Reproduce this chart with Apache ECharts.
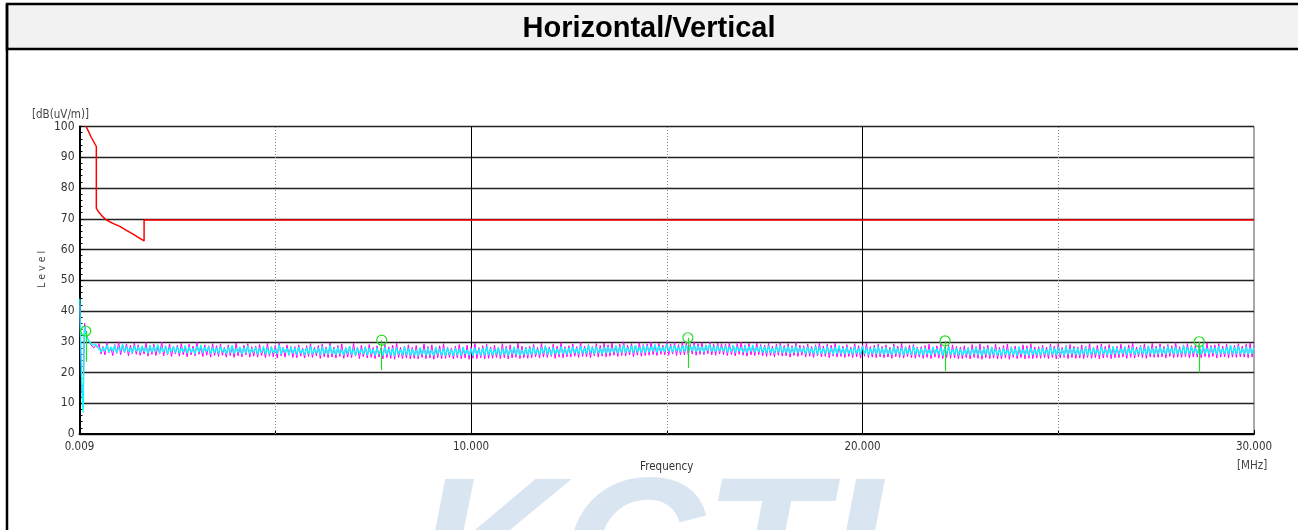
<!DOCTYPE html>
<html><head><meta charset="utf-8">
<script src="https://cdn.jsdelivr.net/npm/echarts@6/dist/echarts.min.js"></script>
<style>html,body{margin:0;padding:0;background:#fff}#c{width:1298px;height:530px}</style>
</head><body><div id="c"></div>
<script>
// ---- data ----
const titleText = 'Horizontal/Vertical';
const yTicks = [0,10,20,30,40,50,60,70,80,90,100];
const xTickLabels = {0:'0.009',10:'10.000',20:'20.000',30:'30.000'};
// start of the sweep (explicit frequencies, MHz)
const headFreq = [0.009,0.02,0.035,0.05,0.065,0.08,0.09,0.1,0.11,0.12,0.13,0.15,0.18,0.21,0.25,0.29,0.33,0.37,0.42,0.46];
const headCyan = [44,36,28,20,14,9,7,12,22,30,35,33,32,31,30,29.5,29,28.5,29,28.3];
const headMagenta = [42,33,24,18,13,11,12,16,25,32,36,34,32.5,31,30.5,29,29.5,28,29,28];
// rest of the sweep: start 0.5 MHz, step 0.05 MHz
const sweepStart = 0.5, sweepStep = 0.05;
const cyanLevel = [
28.6,26.7,28.2,27.0,29.0,26.5,28.4,26.9,28.8,26.4,28.1,27.1,29.3,26.6,28.5,26.8,28.0,26.3,28.7,26.9,
28.3,26.5,28.7,26.8,28.1,26.2,28.9,26.6,28.4,26.9,29.1,26.3,28.2,26.7,28.6,26.1,28.0,26.8,28.5,26.4,
28.4,26.3,28.0,26.7,28.8,26.2,28.3,26.5,27.9,26.0,28.6,26.6,29.0,26.3,28.2,26.8,28.5,26.1,28.1,26.4,
28.0,26.2,28.5,26.6,27.8,26.0,28.3,26.4,28.9,26.1,27.9,26.5,28.4,25.9,28.1,26.3,28.7,26.0,27.8,26.6,
28.2,25.9,27.8,26.4,28.6,26.0,28.0,25.8,28.4,26.3,27.7,26.1,29.0,25.9,28.1,26.5,27.9,25.7,28.3,26.2,
27.9,25.8,28.3,26.2,27.6,25.7,28.1,26.0,28.5,25.9,27.7,26.3,28.0,25.6,28.4,26.1,27.8,25.8,28.8,26.0,
27.8,25.7,28.2,26.0,27.5,25.6,28.0,26.1,28.6,25.8,27.7,25.5,28.1,26.2,27.6,25.9,28.4,25.6,27.9,26.0,
27.6,25.5,28.0,25.9,27.4,25.4,28.3,25.8,27.7,25.6,27.9,25.3,28.1,25.9,27.5,25.6,28.5,25.7,27.8,25.5,
27.7,25.6,27.4,25.3,28.2,25.8,27.6,25.5,28.0,25.7,27.3,25.4,28.4,25.9,27.5,25.6,27.9,25.3,28.1,25.8,
27.5,25.4,28.0,25.7,27.6,25.5,28.3,25.9,27.4,25.6,27.8,25.3,28.1,25.8,27.7,25.5,27.9,25.6,28.5,25.7,
27.8,25.6,27.5,25.9,28.2,25.5,27.7,25.8,28.0,25.4,27.6,26.0,28.4,25.7,27.9,25.5,27.4,25.8,28.1,25.6,
27.9,25.8,28.3,26.0,27.6,25.7,28.1,26.2,28.7,25.9,27.8,25.6,28.2,26.1,27.7,25.8,28.5,26.0,27.9,25.9,
28.1,26.0,28.4,26.3,27.9,25.9,28.6,26.2,28.0,26.1,28.8,26.4,28.2,25.9,28.5,26.3,27.9,26.0,28.3,26.2,
28.4,26.3,28.0,26.6,28.8,26.2,28.3,26.5,29.0,26.4,28.1,26.7,28.6,26.3,28.9,26.6,28.2,26.4,28.7,26.5,
28.7,26.6,28.4,26.9,29.1,26.5,28.6,26.8,28.3,26.7,29.3,26.9,28.5,26.6,28.9,27.0,28.4,26.7,28.8,26.8,
28.9,26.8,28.5,27.0,29.0,26.7,28.6,26.9,28.4,26.6,28.8,27.1,29.2,26.8,28.5,26.7,28.7,27.0,28.3,26.9,
28.6,26.6,28.3,26.8,28.9,26.5,28.4,26.9,28.1,26.6,28.7,26.4,28.5,26.8,29.0,26.6,28.2,26.7,28.6,26.5,
28.3,26.3,28.6,26.5,28.0,26.2,28.4,26.6,28.9,26.3,28.1,26.5,28.5,26.1,28.2,26.4,28.7,26.3,28.0,26.6,
28.1,26.0,28.4,26.3,27.8,26.1,28.6,25.9,28.2,26.2,27.9,26.0,28.5,26.3,28.0,25.8,28.3,26.1,28.8,26.0,
28.0,25.9,28.3,26.1,27.7,25.8,28.4,26.2,27.9,25.9,28.6,26.0,28.1,25.7,27.8,26.1,28.2,25.9,28.5,26.0,
27.9,25.8,28.2,26.0,27.6,25.7,28.5,26.1,27.8,25.9,28.0,25.6,28.3,26.0,27.7,25.8,28.6,25.9,27.9,25.7,
27.8,25.7,28.1,25.9,27.5,25.6,28.4,26.0,27.7,25.8,28.2,25.5,27.9,25.9,28.5,25.7,27.6,25.8,28.0,25.6,
27.7,25.6,27.4,25.8,28.1,25.5,27.6,25.9,28.3,25.7,27.5,25.4,28.0,25.8,27.8,25.5,28.4,25.7,27.6,25.6,
27.6,25.5,28.0,25.8,27.4,25.6,28.2,25.7,27.7,25.4,28.5,25.9,27.5,25.6,27.9,25.5,28.1,25.8,27.6,25.7,
27.8,25.6,28.1,25.9,27.5,25.7,28.4,25.8,27.9,25.6,28.2,25.9,27.6,25.5,28.6,25.8,27.7,25.9,28.0,25.7,
27.9,25.7,27.6,25.9,28.3,25.6,27.8,25.8,28.1,26.0,27.5,25.7,28.4,25.9,27.7,25.6,28.0,25.8,28.6,25.9,
28.0,25.8,27.7,26.0,28.4,25.7,27.9,26.1,28.2,25.8,27.6,25.9,28.5,26.0,27.8,25.7,28.7,26.1,27.9,25.8,
28.1,25.9,28.4,26.1,27.8,25.8,28.6,26.2,28.0,25.9,28.3,26.0,27.7,26.1,28.8,25.9,28.2,26.0,28.5,26.2,
28.0,26.0,28.3,25.8,28.7,26.1,27.9,25.9,28.4,26.2,28.1,25.8,28.6,26.0,27.8,26.1,28.3,25.9,28.9,26.0,
28.2,25.9,28.5,26.1,27.9,26.0,28.4,25.8,28.1,26.0,28.3];
const magentaLevel = [
29.4,26.0,28.5,25.7,29.8,26.4,28.1,25.5,29.1,26.2,30.0,25.8,28.6,26.5,29.3,25.4,28.9,26.1,29.6,25.9,
29.0,25.6,28.4,26.0,29.7,25.3,28.8,25.9,29.2,25.5,28.3,26.1,29.9,25.4,28.7,25.8,29.3,25.2,28.5,26.0,
28.9,25.3,29.5,25.8,28.4,25.1,29.2,25.7,28.6,25.4,29.8,25.9,28.3,25.2,29.0,25.6,28.7,25.0,29.4,25.5,
28.7,25.2,29.3,25.6,28.2,25.0,29.0,25.5,28.5,24.9,29.6,25.4,28.3,25.1,28.9,25.7,29.4,25.0,28.4,25.3,
28.6,25.0,29.1,25.5,28.1,24.8,29.5,25.3,28.4,25.1,28.9,24.7,29.7,25.4,28.2,25.0,29.0,25.6,28.5,24.9,
28.4,24.8,29.0,25.3,28.0,24.7,28.7,25.2,29.4,24.9,28.2,25.4,28.8,24.6,29.2,25.1,28.3,24.8,29.6,25.0,
28.3,24.7,28.8,25.2,29.3,24.6,28.1,25.0,28.6,24.8,29.5,25.3,28.2,24.5,28.9,25.1,28.4,24.7,29.1,24.9,
28.1,24.5,28.7,25.0,28.0,24.4,29.2,24.8,28.3,24.6,28.9,24.3,29.6,24.9,28.2,24.5,28.6,24.7,29.0,24.4,
28.2,24.6,28.8,24.4,28.0,24.9,29.3,24.5,28.4,24.7,29.0,24.3,28.1,24.8,28.7,24.5,29.4,24.6,28.3,24.9,
28.0,24.4,28.6,24.8,29.1,24.5,28.2,24.7,28.9,24.3,28.4,24.6,29.5,24.5,28.1,24.8,28.7,24.4,29.2,24.6,
28.3,24.6,28.9,24.9,28.1,24.5,29.4,24.8,28.5,24.4,29.0,24.7,28.2,24.9,29.6,24.5,28.6,24.8,28.3,24.6,
28.5,24.8,29.1,25.1,28.2,24.7,29.5,25.0,28.7,24.9,28.3,25.2,29.2,24.6,28.6,25.0,29.7,24.8,28.4,25.1,
28.7,25.0,29.3,25.3,28.4,24.9,29.8,25.2,28.6,25.1,29.1,24.8,28.5,25.4,29.4,25.0,28.8,25.3,29.6,25.1,
29.0,25.3,29.6,25.6,28.7,25.2,29.2,25.5,30.0,25.4,28.9,25.7,29.4,25.1,28.8,25.6,29.7,25.3,29.1,25.5,
29.3,25.6,29.9,25.8,29.0,25.5,29.5,25.9,28.9,25.7,30.1,25.6,29.2,26.0,29.7,25.5,29.1,25.8,29.8,25.7,
29.5,25.7,29.1,26.0,30.0,25.6,29.3,25.9,29.7,25.8,29.0,26.1,29.9,25.7,29.2,25.6,29.6,26.0,29.4,25.8,
29.2,25.5,29.7,25.8,28.9,25.4,29.4,25.9,29.9,25.6,29.0,25.3,29.5,25.7,28.8,25.5,29.6,25.8,29.1,25.4,
28.9,25.2,29.5,25.5,28.6,25.1,29.2,25.6,29.7,25.3,28.8,25.4,29.4,25.0,28.7,25.5,29.8,25.2,28.9,25.6,
28.7,25.0,29.3,25.3,28.5,24.9,29.0,25.4,29.6,25.1,28.6,25.2,29.2,24.8,28.9,25.3,29.5,25.0,28.4,25.2,
28.6,24.9,29.1,25.2,28.3,24.8,29.4,25.1,28.7,24.7,29.0,25.3,29.6,24.9,28.4,25.0,28.9,24.8,29.2,25.1,
28.5,24.8,29.0,25.0,28.2,24.6,29.3,25.1,28.6,24.9,29.5,24.7,28.4,25.2,28.9,24.8,29.1,24.6,28.3,25.0,
28.4,24.6,28.8,24.9,29.2,24.5,28.3,25.0,28.7,24.7,29.4,24.5,28.2,24.9,28.9,24.6,29.0,24.8,28.5,24.4,
28.3,24.5,28.7,24.8,28.1,24.4,29.1,24.9,28.5,24.6,29.3,24.3,28.4,24.8,28.9,24.5,28.2,24.7,29.2,24.4,
28.2,24.5,28.8,24.7,29.3,24.3,28.4,24.9,28.6,24.5,28.1,24.8,29.0,24.4,28.7,24.6,29.4,24.5,28.3,24.7,
28.4,24.6,28.9,24.8,28.3,24.5,29.2,24.9,28.6,24.4,29.5,24.7,28.2,24.9,28.8,24.5,29.1,24.8,28.5,24.6,
28.3,24.7,29.0,24.5,28.6,24.9,29.4,24.6,28.2,24.8,28.9,24.4,29.3,24.7,28.5,24.9,29.1,24.5,28.4,24.8,
28.5,24.8,29.2,25.0,28.4,24.6,29.0,24.9,29.6,24.7,28.3,25.1,28.8,24.8,29.3,24.6,28.6,25.0,29.5,24.9,
28.6,24.9,29.3,25.1,28.5,24.7,29.1,25.2,28.7,24.8,29.7,25.0,28.4,24.9,29.0,25.1,29.4,24.7,28.8,25.0,
28.7,25.0,29.2,24.8,28.5,25.1,29.6,24.9,28.8,25.2,29.0,24.7,29.4,25.0,28.6,25.1,29.3,24.8,28.9,25.0,
28.8,24.9,29.4,25.1,28.6,25.0,29.2,24.8,29.5,25.0,28.7];
// limit line
const limitFreq  = [0.17, 0.3, 0.43, 0.43, 0.5, 0.6, 0.69, 0.85, 1.03, 1.2, 1.37, 1.52, 1.65, 1.65, 30];
const limitLevel = [100, 96.5, 93.5, 73.4, 72.0, 70.6, 69.6, 68.5, 67.5, 66.2, 65, 63.8, 62.8, 69.6, 69.6];
// peak markers
const markFreq   = [0.16, 7.72, 15.54, 22.11, 28.6];
const markLevel  = [33.5, 30.5, 31.3, 30.3, 30.0];
const markBottom = [23.5, 20.8, 21.5, 20.5, 20.0];
const dottedX = [5, 15, 25];

// ---- build ----
function trace(head, vals){
  const d = headFreq.map((f,i)=>[f, head[i]]);
  vals.forEach((v,i)=>d.push([+(sweepStart + i*sweepStep).toFixed(3), v]));
  return d;
}
const FONT = "'Liberation Sans Narrow','DejaVu Sans Condensed',Arial,sans-serif";
const chart = echarts.init(document.getElementById('c'), null, {renderer:'canvas'});
chart.setOption({
  animation:false,
  backgroundColor:'#ffffff',
  grid:{left:79.5, right:44, top:126.5, bottom:96, show:true, borderColor:'#555', borderWidth:1},
  xAxis:{
    type:'value', min:0, max:30, interval:5,
    name:'Frequency', nameLocation:'middle', nameGap:27,
    nameTextStyle:{fontFamily:FONT, fontSize:11.5, color:'#333'},
    axisLine:{show:true, onZero:false, lineStyle:{color:'#000', width:2}},
    axisTick:{show:true, inside:true, length:4, lineStyle:{color:'#000'}},
    axisLabel:{fontFamily:FONT, fontSize:11.5, color:'#333', margin:7,
      formatter:v=>xTickLabels[v]!==undefined?xTickLabels[v]:''},
    splitLine:{show:true, lineStyle:{color:['transparent','transparent','#000','transparent','#000','transparent','transparent'], width:1}}
  },
  yAxis:{
    type:'value', min:0, max:100, interval:10,
    axisLine:{show:true, lineStyle:{color:'#000', width:2}},
    axisTick:{show:true, inside:true, length:4, lineStyle:{color:'#000'}},
    minorTick:{show:true, splitNumber:5, length:3, lineStyle:{color:'#000'}},
    axisLabel:{fontFamily:FONT, fontSize:12, color:'#333', margin:5,
      formatter:v=>yTicks.indexOf(v)>=0?String(v):''},
    splitLine:{show:true, lineStyle:{color:'#222', width:1.3}}
  },
  graphic:[
    {type:'text', silent:true, z:-20, x:415, y:462,
     style:{text:'KCTI', font:"italic bold 200px 'Liberation Sans',Arial,sans-serif", fill:'#dae5f2', verticalAlign:'top', align:'left'}},
    {type:'rect', silent:true, z:-10, shape:{x:7, y:4, width:1300, height:45},
     style:{fill:'#f2f2f2', stroke:'#000', lineWidth:2.5}},
    {type:'line', silent:true, z:-10, shape:{x1:7, y1:4, x2:7, y2:540}, style:{stroke:'#000', lineWidth:2.5}},
    {type:'text', silent:true, left:'center', top:14,
     style:{text:titleText, font:"bold 29px 'Liberation Sans',Arial,sans-serif", fill:'#000'}},
    {type:'text', silent:true, x:32, y:109,
     style:{text:'[dB(uV/m)]', font:"11.5px 'DejaVu Sans Condensed',Arial,sans-serif", fill:'#444'}},
    {type:'text', silent:true, x:1237, y:460,
     style:{text:'[MHz]', font:"11.5px 'DejaVu Sans Condensed',Arial,sans-serif", fill:'#444'}},
    {type:'text', silent:true, x:37, y:288, rotation:Math.PI/2,
     style:{text:'L e v e l', font:"10.5px 'DejaVu Sans Condensed',Arial,sans-serif", fill:'#444'}}
  ],
  series:[
    {type:'line', name:'Vertical', data:trace(headMagenta, magentaLevel), showSymbol:false, sampling:'none',
     lineStyle:{color:'#ff00ff', width:1}, itemStyle:{color:'#ff00ff'}, z:2,
     markLine:{silent:true, symbol:['none','none'], label:{show:false},
       lineStyle:{color:'#888', type:[1,2], width:1}, data:dottedX.map(x=>({xAxis:x}))}},
    {type:'line', name:'Horizontal', data:trace(headCyan, cyanLevel), showSymbol:false, sampling:'none',
     lineStyle:{color:'#00ffff', width:1.3}, itemStyle:{color:'#00ffff'}, z:3},
    {type:'line', name:'Limit', data:limitFreq.map((f,i)=>[f, limitLevel[i]]), showSymbol:false,
     lineStyle:{color:'#ff0000', width:1.5}, itemStyle:{color:'#ff0000'}, z:4},
    {type:'scatter', name:'Peaks', data:markFreq.map((f,i)=>[f, markLevel[i]]), symbol:'circle', symbolSize:10,
     itemStyle:{color:'rgba(0,0,0,0)', borderColor:'#22dd22', borderWidth:1.2, opacity:1}, z:6,
     markLine:{silent:true, symbol:['none','none'], label:{show:false}, lineStyle:{color:'#22dd22', type:'solid', width:1.2},
       data:markFreq.map((f,i)=>[{coord:[f, markLevel[i]]},{coord:[f, markBottom[i]]}])}}
  ]
});
</script></body></html>
